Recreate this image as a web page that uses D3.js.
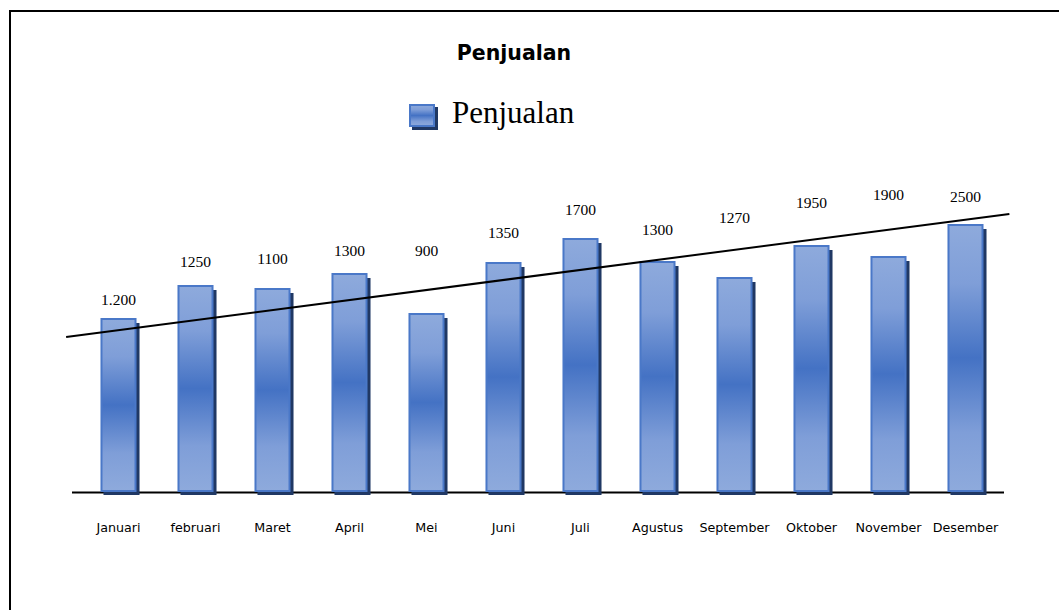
<!DOCTYPE html>
<html>
<head>
<meta charset="utf-8">
<script src="https://cdn.jsdelivr.net/npm/d3@7/dist/d3.min.js"></script>
<style>
  html, body { margin: 0; padding: 0; background: #fff; }
  svg { display: block; }
</style>
</head>
<body>
<svg id="chart" width="1059" height="610"></svg>
<script>
// ---- data ----
const categories = ["Januari", "februari", "Maret", "April", "Mei", "Juni", "Juli", "Agustus", "September", "Oktober", "November", "Desember"];
const barValues = [1740, 2070, 2040, 2190, 1790, 2300, 2540, 2310, 2150, 2470, 2360, 2680];
const labelTexts = ["1.200", "1250", "1100", "1300", "900", "1350", "1700", "1300", "1270", "1950", "1900", "2500"];
const labelAnchors = [1870, 2250, 2280, 2360, 2360, 2540, 2770, 2570, 2690, 2840, 2920, 2900];
const trendIndex = [-0.68, 11.57];
const trendValues = [1550, 2780];
const seriesName = "Penjualan";
const titleText = "Penjualan";

// ---- setup ----
const svg = d3.select("#chart");
const defs = svg.append("defs");

const grad = defs.append("linearGradient")
  .attr("id", "barGrad").attr("x1", 0).attr("y1", 0).attr("x2", 0).attr("y2", 1);
grad.append("stop").attr("offset", "0%").attr("stop-color", "#8eaadc");
grad.append("stop").attr("offset", "22%").attr("stop-color", "#7f9ed8");
grad.append("stop").attr("offset", "50%").attr("stop-color", "#4472c4");
grad.append("stop").attr("offset", "78%").attr("stop-color", "#7f9ed8");
grad.append("stop").attr("offset", "100%").attr("stop-color", "#8eaadc");

// outer border
svg.append("rect")
  .attr("x", 10).attr("y", 11).attr("width", 1200).attr("height", 800)
  .attr("fill", "none").attr("stroke", "#000").attr("stroke-width", 2);

const x = d3.scaleBand().domain(categories).range([76, 1008])
  .paddingInner(0.532).paddingOuter(0.318);
const y = d3.scaleLinear().domain([0, 3000]).range([492, 192]);
const step = x.step();
const bw = x.bandwidth();
const cx = i => x(categories[0]) + bw / 2 + i * step;

// title
svg.append("text")
  .attr("x", 514).attr("y", 60)
  .attr("text-anchor", "middle")
  .attr("font-family", "DejaVu Sans")
  .attr("font-weight", "bold")
  .attr("font-size", 20.5)
  .attr("fill", "#000")
  .text(titleText);

// legend
const lg = svg.append("g").attr("transform", "translate(409,104)");
lg.append("rect").attr("x", 3).attr("y", 3).attr("width", 26).attr("height", 23).attr("fill", "#203864");
lg.append("rect").attr("x", 1).attr("y", 1).attr("width", 24).attr("height", 21)
  .attr("fill", "url(#barGrad)").attr("stroke", "#4a78c8").attr("stroke-width", 2);
svg.append("text")
  .attr("x", 452).attr("y", 123)
  .attr("font-family", "Liberation Serif")
  .attr("font-size", 31)
  .attr("fill", "#000")
  .text(seriesName);

// x axis line
svg.append("line")
  .attr("x1", 72).attr("x2", 1004)
  .attr("y1", y(0) + 0.5).attr("y2", y(0) + 0.5)
  .attr("stroke", "#000").attr("stroke-width", 2);

// bars: shadows
svg.append("g").selectAll("rect").data(barValues).join("rect")
  .attr("x", (d, i) => x(categories[i]) + 3)
  .attr("y", d => y(d) + 5)
  .attr("width", bw)
  .attr("height", d => y(0) + 3 - (y(d) + 5))
  .attr("fill", "#203864");

// bars
svg.append("g").selectAll("rect").data(barValues).join("rect")
  .attr("x", (d, i) => x(categories[i]) + 1)
  .attr("y", d => y(d) + 1)
  .attr("width", bw - 2)
  .attr("height", d => y(0) - 2 - y(d))
  .attr("fill", "url(#barGrad)")
  .attr("stroke", "#4a78c8")
  .attr("stroke-width", 2);

// trend line
svg.append("line")
  .attr("x1", cx(trendIndex[0])).attr("y1", y(trendValues[0]))
  .attr("x2", cx(trendIndex[1])).attr("y2", y(trendValues[1]))
  .attr("stroke", "#000").attr("stroke-width", 2);

// data labels
svg.append("g").selectAll("text").data(labelTexts).join("text")
  .attr("x", (d, i) => cx(i))
  .attr("y", (d, i) => y(labelAnchors[i]))
  .attr("text-anchor", "middle")
  .attr("font-family", "Liberation Serif")
  .attr("font-size", 15.5)
  .attr("fill", "#000")
  .text(d => d);

// category labels
svg.append("g").selectAll("text").data(categories).join("text")
  .attr("x", (d, i) => cx(i))
  .attr("y", 532)
  .attr("text-anchor", "middle")
  .attr("font-family", "DejaVu Sans")
  .attr("font-size", 12.7)
  .attr("fill", "#000")
  .text(d => d);
</script>
</body>
</html>
